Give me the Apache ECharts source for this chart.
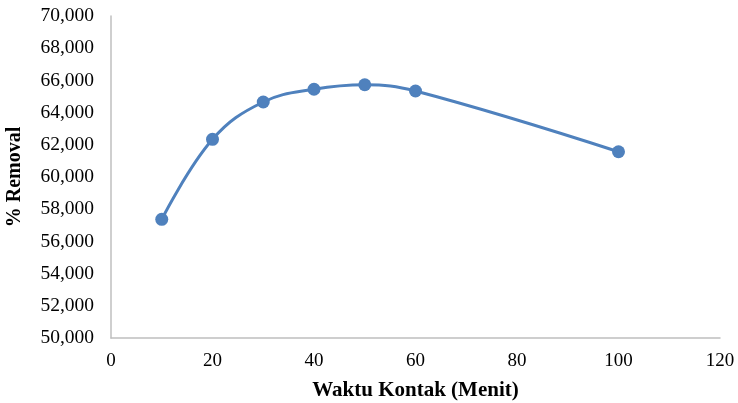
<!DOCTYPE html>
<html>
<head>
<meta charset="utf-8">
<script src="https://cdn.jsdelivr.net/npm/echarts@6/dist/echarts.min.js"></script>
<style>
html,body{margin:0;padding:0;background:#fff;}
#chart{width:738px;height:403px;}
</style>
</head>
<body>
<div id="chart"></div>
<script>
const waktu = [10, 20, 30, 40, 50, 60, 100];
const removal = [57.37, 62.34, 64.66, 65.45, 65.73, 65.34, 61.57];
const xTitle = 'Waktu Kontak (Menit)';
const yTitle = '% Removal';

const chart = echarts.init(document.getElementById('chart'), null, {renderer: 'canvas'});
const font = '"Liberation Serif", "Times New Roman", serif';
chart.setOption({
  animation: false,
  grid: {left: 111, right: 18, top: 16, bottom: 65, containLabel: false, outerBoundsMode: 'none'},
  xAxis: {
    type: 'value', min: 0, max: 120, interval: 20,
    axisLine: {show: true, lineStyle: {color: '#BFBFBF', width: 1.5}},
    axisTick: {show: false},
    splitLine: {show: false},
    axisLabel: {color: '#000', fontFamily: font, fontSize: 19, margin: 14},
    name: xTitle, nameLocation: 'middle', nameGap: 42,
    nameTextStyle: {color: '#000', fontFamily: font, fontSize: 21, fontWeight: 'bold'}
  },
  yAxis: {
    type: 'value', min: 50, max: 70, interval: 2,
    axisLine: {show: true, lineStyle: {color: '#BFBFBF', width: 1.5}},
    axisTick: {show: false},
    splitLine: {show: false},
    axisLabel: {color: '#000', fontFamily: font, fontSize: 19.5, margin: 17,
      formatter: v => v.toFixed(3).replace('.', ',')},
    name: yTitle, nameLocation: 'middle', nameGap: 86, nameRotate: 90,
    nameTextStyle: {color: '#000', fontFamily: font, fontSize: 20, fontWeight: 'bold'}
  },
  series: [{
    type: 'line',
    data: waktu.map((x, i) => [x, removal[i]]),
    smooth: 0.4,
    symbol: 'circle', symbolSize: 13,
    lineStyle: {color: '#4F81BD', width: 3},
    itemStyle: {color: '#4F81BD'}
  }]
});
</script>
</body>
</html>
